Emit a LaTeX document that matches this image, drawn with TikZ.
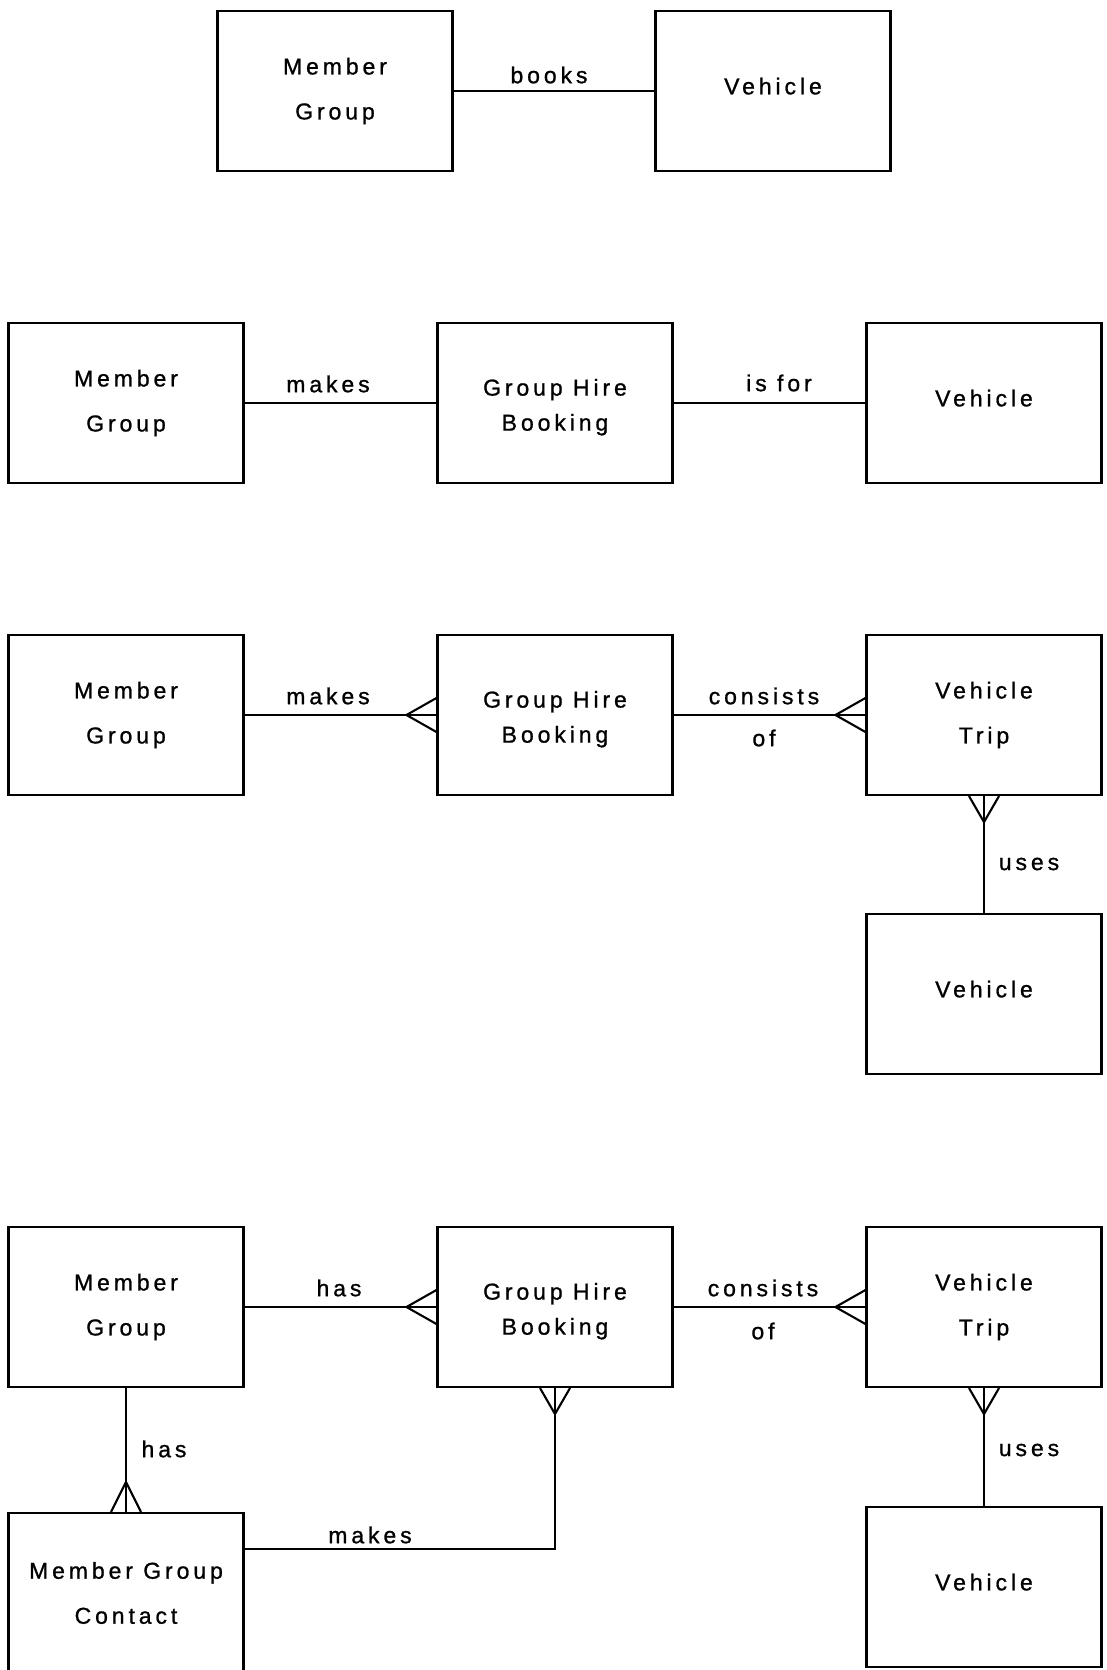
\documentclass[tikz,border=0pt]{standalone}
\usepackage{fontspec}
\setmainfont{Liberation Sans}[LetterSpace=17, FakeBold=1]
\usetikzlibrary{calc}
% crow's foot on a horizontal connector: #1 = point on the box edge, #2 = offset of the tip
\newcommand\crowH[2]{\draw[rel] ($(#1)+(0,-17)$) -- ($(#1)+(#2,0)$) -- ($(#1)+(0,17)$);}
% crow's foot on a vertical connector
\newcommand\crowV[2]{\draw[rel] ($(#1)+(-15,0)$) -- ($(#1)+(0,#2)$) -- ($(#1)+(15,0)$);}
\begin{document}
\begin{tikzpicture}[x=1pt,y=-1pt,
  ent/.style={draw, line width=2.1pt, minimum width=235pt, minimum height=160pt,
    inner sep=0pt, align=center, font=\fontsize{23}{45}\selectfont},
  ent1/.style={ent, text depth=10pt},
  entb/.style={ent, font=\fontsize{23}{35}\selectfont},
  rel/.style={line width=2.1pt},
  lbl/.style={font=\fontsize{23}{42}\selectfont, inner sep=0pt},
]
\useasboundingbox (0,0) rectangle (1106,1670);

% --- first model
\node[ent] (mg1) at (335,91) {Member\\Group};
\node[ent1] (v1) at (773,91) {Vehicle};
\draw[rel] (mg1) -- (v1);
\node[lbl] at (549,75) {books};

% --- second model
\node[ent] (mg2) at (126,403) {Member\\Group};
\node[entb] (gh2) at (555,403) {\rule{0pt}{25pt}Group Hire\\Booking};
\node[ent1] (v2) at (984,403) {Vehicle};
\draw[rel] (mg2) -- (gh2);
\draw[rel] (gh2) -- (v2);
\node[lbl] at (328,384) {makes};
\node[lbl] at (779,383) {is for};

% --- third model
\node[ent] (mg3) at (126,715) {Member\\Group};
\node[entb] (gh3) at (555,715) {\rule{0pt}{25pt}Group Hire\\Booking};
\node[ent] (vt3) at (984,715) {Vehicle\\Trip};
\node[ent1] (v3) at (984,994) {Vehicle};
\draw[rel] (mg3) -- (gh3);
\draw[rel] (gh3) -- (vt3);
\draw[rel] (vt3) -- (v3);
\crowH{gh3.west}{-30}
\crowH{vt3.west}{-30}
\crowV{vt3.south}{26}
\node[lbl] at (328,696) {makes};
\node[lbl] at (764,696) {consists};
\node[lbl] at (764,738) {of};
\node[lbl] at (1029,864) {uses};

% --- fourth model
\node[ent] (mg4) at (126,1307) {Member\\Group};
\node[entb] (gh4) at (555,1307) {\rule{0pt}{25pt}Group Hire\\Booking};
\node[ent] (vt4) at (984,1307) {Vehicle\\Trip};
\node[ent] (mgc) at (126,1593) {Member Group\\Contact};
\node[ent1] (v4) at (984,1587) {Vehicle};
\draw[rel] (mg4) -- (gh4);
\draw[rel] (gh4) -- (vt4);
\draw[rel] (mg4) -- (mgc);
\draw[rel] (vt4) -- (v4);
\draw[rel] (gh4.south) |- ($(mgc.north east)+(0,37)$);
\crowH{gh4.west}{-30}
\crowH{vt4.west}{-30}
\crowV{vt4.south}{26}
\crowV{gh4.south}{26}
\crowV{mgc.north}{-30}
\node[lbl] at (339,1288) {has};
\node[lbl] at (763,1288) {consists};
\node[lbl] at (763,1331) {of};
\node[lbl] at (164,1449) {has};
\node[lbl] at (1029,1450) {uses};
\node[lbl] at (370,1535) {makes};
\end{tikzpicture}
\end{document}
